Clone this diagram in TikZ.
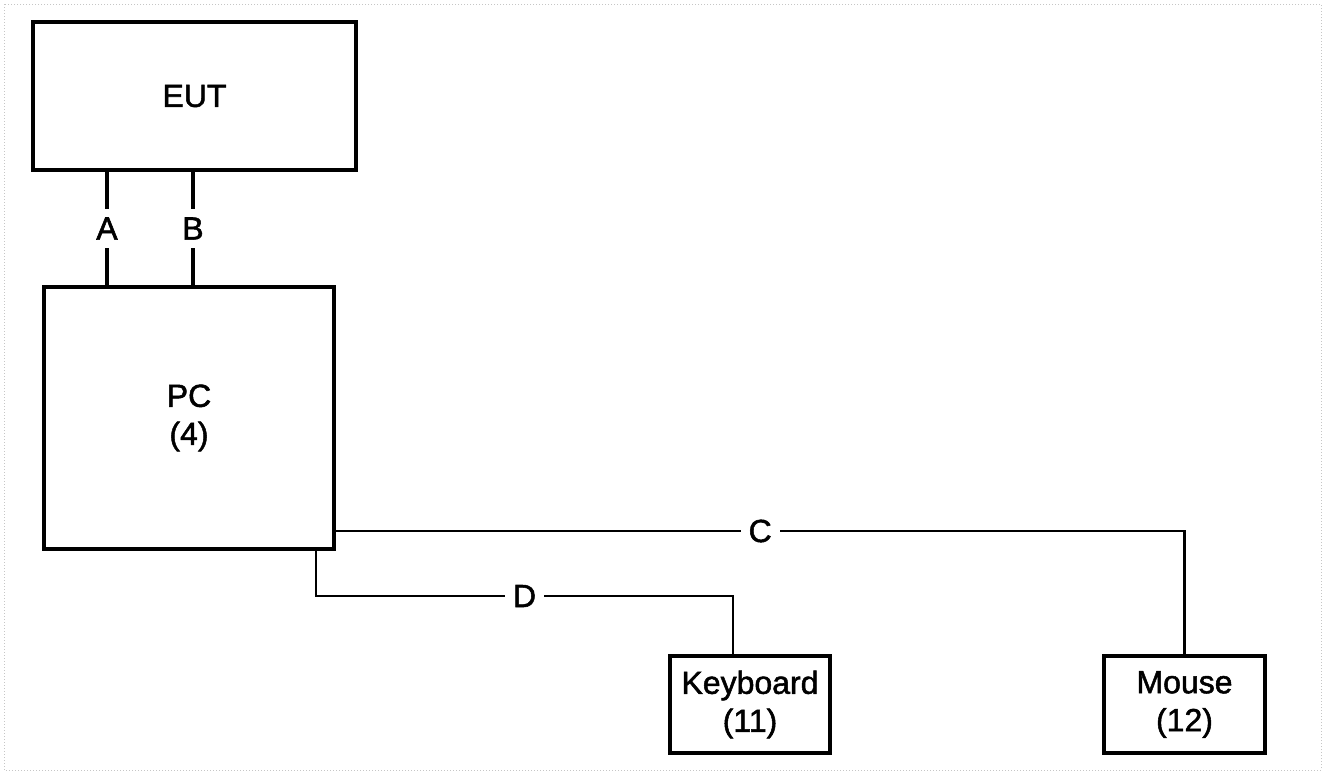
\documentclass[tikz,border=0pt]{standalone}
\usepackage{fontspec}
\newfontfamily\diagfont{Liberation Sans}[FakeBold=1.6]
\begin{document}
\begin{tikzpicture}[x=1pt,y=-1pt,
  font=\diagfont\fontsize{32}{38}\selectfont,
  box/.style={draw, line width=3.6pt, inner sep=0pt, align=center},
  wire/.style={line width=2.6pt},
  thickwire/.style={line width=3.2pt},
  lbl/.style={fill=white, inner sep=8pt}]
\useasboundingbox (0,0) rectangle (1325,774);
\draw[gray!45, dotted, line width=1pt] (4,4) rectangle (1321,770);

\node[box, minimum width=323pt, minimum height=148pt] (eut) at (194.5,96) {EUT};
\node[box, minimum width=290pt, minimum height=262pt] (pc) at (189,418) {PC\\(4)};
\node[box, minimum width=160pt, minimum height=97pt] (keyboard) at (750,704.5) {Keyboard\\(11)};
\node[box, minimum width=161pt, minimum height=97pt] (mouse) at (1184.5,704.5) {Mouse\\(12)};

\coordinate (a) at (107,0);
\coordinate (b) at (193,0);
\coordinate (c) at (0,531);
\coordinate (d1) at (316,596);
\coordinate (d2) at (733,596);

\draw[thickwire] (eut.south -| a) -- node[lbl]{A} (pc.north -| a);
\draw[thickwire] (eut.south -| b) -- node[lbl]{B} (pc.north -| b);
\draw[wire] (pc.east |- c) -- node[lbl]{C} (mouse.north |- c) -- (mouse.north);
\draw[wire] (pc.south -| d1) -- (d1) -- node[lbl]{D} (d2) -- (keyboard.north -| d2);
\end{tikzpicture}
\end{document}
